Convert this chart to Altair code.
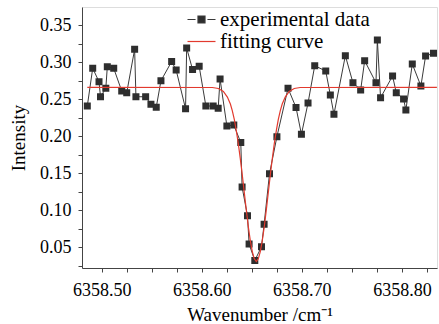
import altair as alt
import pandas as pd

# experimental data (wavenumber, intensity)
exp_x = [6358.4856, 6358.4910, 6358.4973, 6358.4988, 6358.5041, 6358.5056, 6358.5120, 6358.5200,
         6358.5250, 6358.5329, 6358.5342, 6358.5439, 6358.5492, 6358.5545, 6358.5592, 6358.5699,
         6358.5744, 6358.5838, 6358.5849, 6358.5908, 6358.5974, 6358.6041, 6358.6114, 6358.6164,
         6358.6183, 6358.6251, 6358.6320, 6358.6390, 6358.6403, 6358.6457, 6358.6473, 6358.6530,
         6358.6597, 6358.6623, 6358.6677, 6358.6751, 6358.6862, 6358.6942, 6358.6996, 6358.7062,
         6358.7129, 6358.7239, 6358.7285, 6358.7321, 6358.7435, 6358.7511, 6358.7588, 6358.7628,
         6358.7741, 6358.7755, 6358.7787, 6358.7907, 6358.7944, 6358.8017, 6358.8040, 6358.8104,
         6358.8190, 6358.8237, 6358.8316]
exp_y = [0.2407, 0.2916, 0.2735, 0.2532, 0.2646, 0.2937, 0.2916, 0.2609, 0.2586, 0.3172,
         0.2532, 0.2532, 0.2430, 0.2389, 0.2748, 0.3007, 0.2893, 0.2370, 0.3190, 0.2899,
         0.2944, 0.2407, 0.2407, 0.2376, 0.2771, 0.2137, 0.2150, 0.1914, 0.1314, 0.0926,
         0.0544, 0.0322, 0.0508, 0.0810, 0.1493, 0.1993, 0.2646, 0.2387, 0.2025, 0.2447,
         0.2951, 0.2879, 0.2555, 0.2295, 0.3086, 0.2721, 0.2623, 0.3018, 0.2721, 0.3298,
         0.2519, 0.2812, 0.2586, 0.2501, 0.2353, 0.2974, 0.2677, 0.3082, 0.3118]

# fitting curve
fit_x = [6358.4856, 6358.6106, 6358.6166, 6358.6216, 6358.6256, 6358.6286, 6358.6305, 6358.6325,
         6358.6345, 6358.6365, 6358.6385, 6358.6405, 6358.6425, 6358.6445, 6358.6465, 6358.6485,
         6358.6505, 6358.6525, 6358.6545, 6358.6565, 6358.6585, 6358.6605, 6358.6625, 6358.6645,
         6358.6665, 6358.6685, 6358.6705, 6358.6725, 6358.6745, 6358.6765, 6358.6785, 6358.6804,
         6358.6834, 6358.6874, 6358.6924, 6358.6984, 6358.8350]
fit_y = [0.2659, 0.2657, 0.2643, 0.2603, 0.2528, 0.2434, 0.2346, 0.2225, 0.2076, 0.1901,
         0.1698, 0.1476, 0.1240, 0.1003, 0.0781, 0.0592, 0.0443, 0.0345, 0.0308, 0.0345,
         0.0443, 0.0592, 0.0781, 0.1003, 0.1240, 0.1476, 0.1698, 0.1901, 0.2076, 0.2225,
         0.2346, 0.2434, 0.2528, 0.2603, 0.2643, 0.2657, 0.2659]

x_ticks = [6358.500, 6358.525, 6358.550, 6358.575, 6358.600, 6358.625, 6358.650, 6358.675,
           6358.700, 6358.725, 6358.750, 6358.775, 6358.800, 6358.825]
y_ticks = [0.025, 0.050, 0.075, 0.100, 0.125, 0.150, 0.175, 0.200, 0.225, 0.250, 0.275,
           0.300, 0.325, 0.350, 0.375]

series = ["experimental data", "fitting curve"]
stroke_colors = ["#3a3a3a", "#e23a2e"]
fill_colors = ["#2e2e2e", "#e23a2e"]
legend_shapes = ["M-2,0H-0.85M0.85,0H2M-0.5,-0.5H0.5V0.5H-0.5Z", "M-2,0H2"]

exp_df = pd.DataFrame({"x": exp_x, "y": exp_y, "series": series[0]})
fit_df = pd.DataFrame({"x": fit_x, "y": fit_y, "series": series[1]})

FONT = "Liberation Serif"
AX = "#444444"

xs = alt.Scale(domain=[6358.4803, 6358.8351], nice=False, zero=False)
ys = alt.Scale(domain=[0.0221, 0.3743], nice=False, zero=False)

x_axis = alt.Axis(
    title="Wavenumber /cm⁻¹", values=x_ticks,
    labelExpr="abs(datum.value*10 - round(datum.value*10)) < 0.01 ? format(datum.value, '.2f') : ''",
    grid=False, tickSize=4, tickColor=AX, domainColor=AX, labelPadding=9,
    labelFont=FONT, labelFontSize=18, labelColor="black", labelOverlap=False, labelFlush=False,
    titleFont=FONT, titleFontSize=19, titleFontWeight="normal", titleColor="black", titlePadding=6,
)
y_axis = alt.Axis(
    title="Intensity", values=y_ticks,
    labelExpr="abs(datum.value*20 - round(datum.value*20)) < 0.01 ? format(datum.value, '.2f') : ''",
    grid=False, tickSize=4, tickColor=AX, domainColor=AX, labelPadding=7,
    labelFont=FONT, labelFontSize=18, labelColor="black", labelOverlap=False, labelFlush=False,
    titleFont=FONT, titleFontSize=19, titleFontWeight="normal", titleColor="black", titlePadding=11,
)

leg = alt.Legend(
    title=None, orient="none", legendX=109, legendY=2, padding=0,
    labelFont=FONT, labelFontSize=21, labelColor="black", labelOffset=8, labelLimit=400,
    symbolSize=196, symbolStrokeWidth=1.2, rowPadding=0,
)

X = alt.X("x:Q", scale=xs, axis=x_axis)
Y = alt.Y("y:Q", scale=ys, axis=y_axis)
stroke_enc = alt.Stroke("series:N", scale=alt.Scale(domain=series, range=stroke_colors), legend=leg)
fill_enc = alt.Fill("series:N", scale=alt.Scale(domain=series, range=fill_colors), legend=leg)
shape_enc = alt.Shape("series:N", scale=alt.Scale(domain=series, range=legend_shapes), legend=leg)

exp_line = alt.Chart(exp_df).mark_line(strokeWidth=1).encode(x=X, y=Y, stroke=stroke_enc)
exp_pts = alt.Chart(exp_df).mark_point(filled=True, size=196, opacity=1).encode(
    x=X, y=Y, fill=fill_enc, shape=shape_enc)
fit_line = alt.Chart(fit_df).mark_line(strokeWidth=1.2).encode(x=X, y=Y, stroke=stroke_enc)

chart = (
    alt.layer(exp_line, exp_pts, fit_line)
    .properties(width=355, height=261, autosize="none",
                padding={"left": 82, "top": 7, "right": 2, "bottom": 56})
    .configure_view(stroke=AX, strokeWidth=1)
    .configure(background="white")
)

chart.save("out.html", embed_options={"renderer": "svg", "actions": False})
